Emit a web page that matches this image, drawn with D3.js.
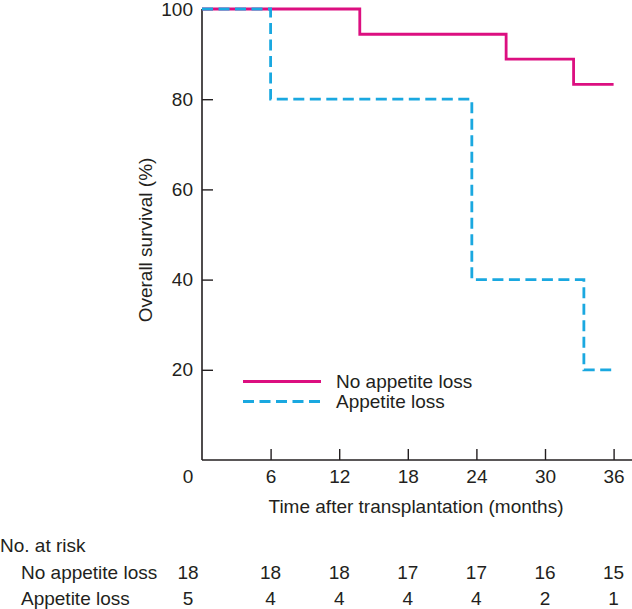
<!DOCTYPE html>
<html>
<head>
<meta charset="utf-8">
<script src="https://cdn.jsdelivr.net/npm/d3@7"></script>
<style>
html,body{margin:0;padding:0;background:#fff;}
text{font-family:"Liberation Sans",Arial,Helvetica,sans-serif;fill:#231f20;}
</style>
</head>
<body>
<svg id="chart" width="632" height="609"></svg>
<script>
// ---- data ----
const xTicks = [0, 6, 12, 18, 24, 30, 36];
const yTicks = [20, 40, 60, 80, 100];
const noLossTimes = [0, 13.8, 26.6, 32.5, 36];
const noLossSurv = [100, 94.4, 88.9, 83.3, 83.3];
const lossTimes = [0, 6, 23.6, 33.4, 35.9];
const lossSurv = [100, 80, 40, 20, 20];
const seriesNames = ["No appetite loss", "Appetite loss"];
const riskNoLoss = [18, 18, 18, 17, 17, 16, 15];
const riskLoss = [5, 4, 4, 4, 4, 2, 1];

const colNoLoss = "#dc0f80";
const colLoss = "#1aa8e0";

const svg = d3.select("#chart");
const x = d3.scaleLinear().domain([0, 36]).range([202, 613.6]);
const y = d3.scaleLinear().domain([0, 100]).range([460, 9]);
const fs = 19;

// axes lines
svg.append("line").attr("x1", x(0)).attr("x2", 632).attr("y1", y(0)).attr("y2", y(0))
  .attr("stroke", "#231f20").attr("stroke-width", 1.6);
svg.append("line").attr("x1", x(0)).attr("x2", x(0)).attr("y1", y(0)).attr("y2", y(100))
  .attr("stroke", "#231f20").attr("stroke-width", 1.6);

// x axis
const xAxis = d3.axisBottom(x).tickValues(xTicks.slice(1)).tickSizeInner(-11).tickSizeOuter(0).tickPadding(10);
const gx = svg.append("g").attr("transform", `translate(0,${y(0)})`).call(xAxis);
gx.select(".domain").remove();
gx.selectAll(".tick line").attr("stroke", "#231f20").attr("stroke-width", 1.4);
gx.selectAll(".tick text").style("font-size", fs + "px").attr("font-family", null).attr("fill", "#231f20");
svg.append("text").attr("x", 188).attr("y", 483).attr("text-anchor", "middle")
  .style("font-size", fs + "px").text(xTicks[0]);

// y axis
const yAxis = d3.axisLeft(y).tickValues(yTicks).tickSizeInner(-11).tickSizeOuter(0).tickPadding(9);
const gy = svg.append("g").attr("transform", `translate(${x(0)},0)`).call(yAxis);
gy.select(".domain").remove();
gy.selectAll(".tick line").attr("stroke", "#231f20").attr("stroke-width", 1.4);
gy.selectAll(".tick text").style("font-size", fs + "px").attr("font-family", null).attr("fill", "#231f20");

// axis titles
svg.append("text").attr("x", 416).attr("y", 513).attr("text-anchor", "middle")
  .style("font-size", fs + "px").text("Time after transplantation (months)");
svg.append("text").attr("transform", "translate(152,240) rotate(-90)").attr("text-anchor", "middle")
  .style("font-size", fs + "px").text("Overall survival (%)");

// curves
const line = d3.line().x(d => x(d[0])).y(d => y(d[1])).curve(d3.curveStepAfter);
svg.append("path").datum(noLossTimes.map((t, i) => [t, noLossSurv[i]]))
  .attr("d", line).attr("fill", "none").attr("stroke", colNoLoss).attr("stroke-width", 2.8);
svg.append("path").datum(lossTimes.map((t, i) => [t, lossSurv[i]]))
  .attr("d", line).attr("fill", "none").attr("stroke", colLoss).attr("stroke-width", 2.8)
  .attr("stroke-dasharray", "11,5.5");

// legend
const legY = [381.5, 401.5];
const legCols = [colNoLoss, colLoss];
seriesNames.forEach((n, i) => {
  const l = svg.append("line").attr("x1", 243).attr("x2", 321).attr("y1", legY[i]).attr("y2", legY[i])
    .attr("stroke", legCols[i]).attr("stroke-width", 2.8);
  if (i === 1) l.attr("stroke-dasharray", "11,5.5");
  svg.append("text").attr("x", 336).attr("y", legY[i] + 6.5).style("font-size", fs + "px").text(n);
});

// risk table
svg.append("text").attr("x", 0).attr("y", 552).style("font-size", fs + "px").text("No. at risk");
const rowY = [579, 605];
const risks = [riskNoLoss, riskLoss];
seriesNames.forEach((n, r) => {
  svg.append("text").attr("x", 21).attr("y", rowY[r]).style("font-size", fs + "px").text(n);
  risks[r].forEach((v, i) => {
    const px = i === 0 ? 188 : x(xTicks[i]);
    svg.append("text").attr("x", px).attr("y", rowY[r]).attr("text-anchor", "middle")
      .style("font-size", fs + "px").text(v);
  });
});
</script>
</body>
</html>
